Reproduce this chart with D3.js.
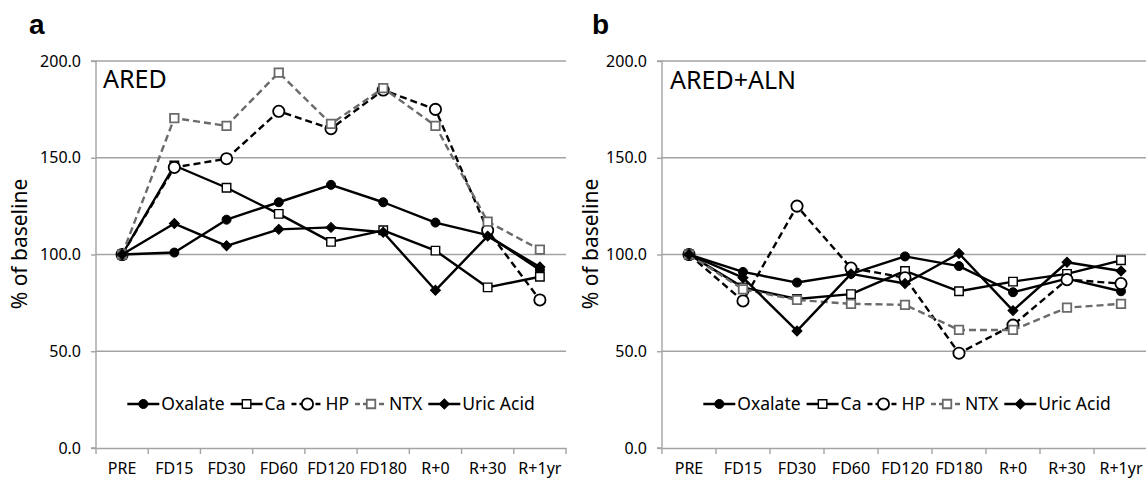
<!DOCTYPE html>
<html><head><meta charset="utf-8">
<script src="https://cdn.jsdelivr.net/npm/d3@7"></script>
<style>
body{margin:0;background:#fff}
svg{display:block;font-family:'Noto Sans',sans-serif;background:#fff}
</style>
</head><body>
<svg id="c" width="1146" height="480"></svg>
<script>
// ---- data ----
const categories = ["PRE","FD15","FD30","FD60","FD120","FD180","R+0","R+30","R+1yr"];
const yTicks = [0, 50, 100, 150, 200];
const seriesNames = ["Oxalate","Ca","HP","NTX","Uric Acid"];

// Panel a: ARED
const aredOxalate = [100, 101, 118, 127, 136, 127, 116.5, 110, 92];
const aredCa      = [100, 146, 134.5, 121, 106.5, 112.5, 102, 83, 88.5];
const aredHP      = [100, 145, 149.5, 174, 165, 185, 175, 112.5, 76.5];
const aredNTX     = [100, 170.5, 166.5, 194, 167.5, 186, 166.5, 117, 102.5];
const aredUric    = [100, 116, 104.5, 113, 114, 111.5, 81.5, 109.5, 93.5];

// Panel b: ARED+ALN
const alnOxalate = [100, 91, 85.5, 90, 99, 94, 80.5, 87.5, 81];
const alnCa      = [100, 83, 77, 79.5, 91.5, 81, 86, 90, 97];
const alnHP      = [100, 76, 125, 93, 88, 49, 63.5, 87, 85];
const alnNTX     = [100, 82, 76.5, 74.5, 74, 61, 61, 72.5, 74.5];
const alnUric    = [100, 88, 60.5, 90, 85, 100.5, 71, 96, 91.5];

// ---- styles ----
const styles = {
  "Oxalate":   {stroke:"#000", dash:null, sym:"circle",  fill:"#000", mstroke:"#000", size:64, mw:1},
  "Ca":        {stroke:"#000", dash:null, sym:"square",  fill:"#fff", mstroke:"#000", size:72, mw:1.4},
  "HP":        {stroke:"#000", dash:"7,4", sym:"circle", fill:"#fff", mstroke:"#000", size:100, mw:1.8},
  "NTX":       {stroke:"#6a6a6a", dash:"7,4", sym:"square", fill:"#fff", mstroke:"#6a6a6a", size:72, mw:1.8},
  "Uric Acid": {stroke:"#000", dash:null, sym:"diamond", fill:"#000", mstroke:"#000", size:50, mw:1}
};

const panels = [
  {letter:"a", title:"ARED", x0:96, x1:566, letterX:29, titleX:103, titleY:88, yTitleX:20, legendC:331,
   data:[aredOxalate, aredCa, aredHP, aredNTX, aredUric]},
  {letter:"b", title:"ARED+ALN", x0:662, x1:1148, letterX:592, titleX:670, titleY:89, yTitleX:591, legendC:907,
   data:[alnOxalate, alnCa, alnHP, alnNTX, alnUric]}
];

const svg = d3.select("#c");
const yTop = 61, yBot = 448;
const gridColor = "#a3a3a3";

function symPath(st){
  if (st.sym === "circle") return d3.symbol(d3.symbolCircle, st.size)();
  return d3.symbol(d3.symbolSquare, st.size)();
}
function drawMarker(g, st, x, y){
  g.append("path").attr("d", symPath(st))
    .attr("transform", `translate(${x},${y})` + (st.sym==="diamond" ? " rotate(45)" : ""))
    .attr("fill", st.fill).attr("stroke", st.mstroke).attr("stroke-width", st.mw);
}

panels.forEach(p => {
  const g = svg.append("g");
  const x = d3.scaleBand().domain(categories).range([p.x0, p.x1]);
  const y = d3.scaleLinear().domain([0, 200]).range([yBot, yTop]);
  const cx = c => x(c) + x.bandwidth()/2;

  // gridlines
  g.selectAll(".grid").data(yTicks.filter(t => t > 0)).join("line")
    .attr("x1", p.x0).attr("x2", p.x1)
    .attr("y1", d => y(d)).attr("y2", d => y(d))
    .attr("stroke", gridColor).attr("stroke-width", 1.4);

  // y axis
  const ya = g.append("g").attr("transform", `translate(${p.x0},0)`)
    .call(d3.axisLeft(y).tickValues(yTicks).tickFormat(d3.format(".1f")).tickSize(5).tickPadding(10));
  ya.select(".domain").attr("stroke", gridColor).attr("stroke-width", 1.4).attr("d", `M-5,${yTop}H0V${yBot}H-5`);
  ya.selectAll(".tick line").attr("stroke", gridColor).attr("stroke-width", 1.4);
  ya.selectAll("text").attr("font-size", 16).attr("fill", "#000").attr("font-family", "'Noto Sans',sans-serif");

  // x axis
  const xa = g.append("g").attr("transform", `translate(0,${yBot})`)
    .call(d3.axisBottom(x).tickSize(0).tickPadding(15));
  xa.select(".domain").attr("stroke", gridColor).attr("stroke-width", 1.4);
  xa.selectAll("text").attr("font-size", 16).attr("fill", "#000").attr("font-family", "'Noto Sans',sans-serif");
  const bounds = d3.range(categories.length + 1).map(i => p.x0 + i * x.step());
  g.selectAll(".xb").data(bounds).join("line")
    .attr("x1", d => d).attr("x2", d => d).attr("y1", yBot).attr("y2", yBot + 6)
    .attr("stroke", gridColor).attr("stroke-width", 1.4);

  // y title
  g.append("text").attr("transform", `translate(${p.yTitleX},244) rotate(-90)`)
    .attr("text-anchor", "middle").attr("dy", "0.35em")
    .attr("font-size", 21).attr("fill", "#000").text("% of baseline");

  // panel letter
  g.append("text").attr("x", p.letterX).attr("y", 34).attr("font-size", 28).attr("font-weight", "bold")
    .attr("font-family", "'Liberation Sans',Arial,sans-serif").attr("fill", "#000").text(p.letter);
  // inner title
  g.append("text").attr("x", p.titleX).attr("y", p.titleY).attr("font-size", 25).attr("fill", "#000").text(p.title);

  // series
  const line = d3.line().x((d, i) => cx(categories[i])).y(d => y(d));
  seriesNames.forEach((name, si) => {
    const st = styles[name];
    const vals = p.data[si];
    const sg = g.append("g");
    sg.append("path").datum(vals).attr("d", line).attr("fill", "none")
      .attr("stroke", st.stroke).attr("stroke-width", 2.4)
      .attr("stroke-dasharray", st.dash).attr("stroke-linejoin", "round");
    vals.forEach((v, i) => drawMarker(sg, st, cx(categories[i]), y(v)));
  });

  // legend
  const lg = g.append("g");
  let cur = 0;
  const lineLen = 32;
  seriesNames.forEach(name => {
    const st = styles[name];
    const ig = lg.append("g").attr("transform", `translate(${cur},0)`);
    ig.append("line").attr("x1", 0).attr("x2", lineLen).attr("y1", 0).attr("y2", 0)
      .attr("stroke", st.stroke).attr("stroke-width", 2.4).attr("stroke-dasharray", st.dash ? "5,3" : null);
    drawMarker(ig, st, lineLen/2, 0);
    const t = ig.append("text").attr("x", lineLen + 2).attr("y", 0).attr("dy", "0.35em")
      .attr("font-size", 17.5).attr("fill", "#000").text(name);
    cur += lineLen + 2 + t.node().getComputedTextLength() + 6;
  });
  const total = cur - 6;
  lg.attr("transform", `translate(${p.legendC - total/2},404)`);
});
</script>
</body></html>
